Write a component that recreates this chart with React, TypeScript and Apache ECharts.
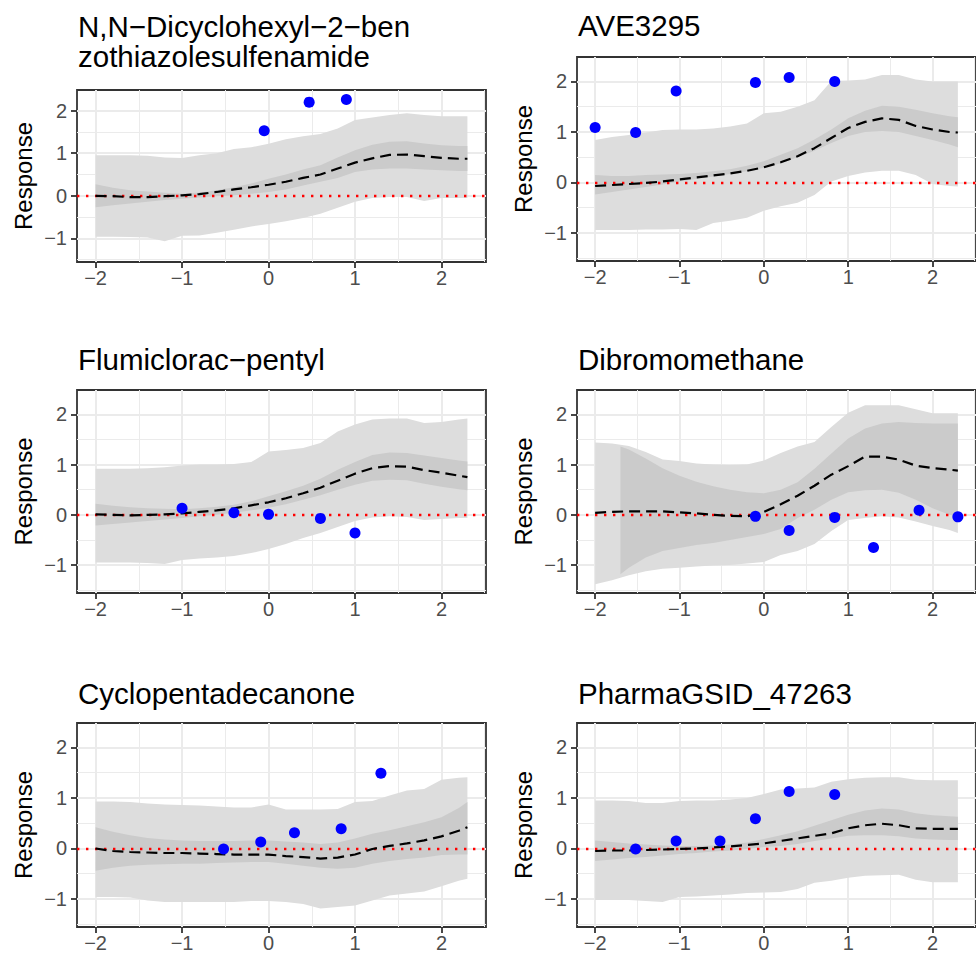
import React, { useEffect, useRef } from "react";
import * as echarts from "echarts";

// ---------- data ----------
const X = [-2, -1.8, -1.6, -1.4, -1.2, -1.0, -0.8, -0.6, -0.4, -0.2, 0, 0.2, 0.4, 0.6, 0.8, 1.0, 1.2, 1.4, 1.6, 1.8, 2.0, 2.2, 2.3];
const X_INNER_DIBROMO = [-1.7, -1.6, -1.4, -1.2, -1.0, -0.8, -0.6, -0.4, -0.2, 0, 0.2, 0.4, 0.6, 0.8, 1.0, 1.2, 1.4, 1.6, 1.8, 2.0, 2.2, 2.3];

const TITLES = [
  ["N,N\u2212Dicyclohexyl\u22122\u2212ben", "zothiazolesulfenamide"],
  ["AVE3295"],
  ["Flumiclorac\u2212pentyl"],
  ["Dibromomethane"],
  ["Cyclopentadecanone"],
  ["PharmaGSID_47263"],
];

const X_TICKS = [-2, -1, 0, 1, 2];
const Y_TICKS = [-1, 0, 1, 2];
const X_MINOR = [-1.5, -0.5, 0.5, 1.5, 2.5];
const Y_MINOR = [-1.5, -0.5, 0.5, 1.5];

// Panel 1: N,N-Dicyclohexyl-2-benzothiazolesulfenamide
const p1OuterHi = [0.95, 0.95, 0.95, 0.94, 0.90, 0.89, 0.95, 1.00, 1.10, 1.14, 1.22, 1.33, 1.40, 1.45, 1.58, 1.78, 1.84, 1.90, 1.94, 1.90, 1.87, 1.87, 1.87];
const p1OuterLo = [-0.96, -0.96, -0.97, -0.98, -1.07, -0.94, -0.93, -0.87, -0.80, -0.72, -0.66, -0.60, -0.52, -0.42, -0.28, -0.14, -0.05, -0.03, -0.03, -0.12, -0.05, -0.05, -0.05];
const p1InnerHi = [0.27, 0.19, 0.13, 0.10, 0.07, 0.05, 0.08, 0.13, 0.20, 0.29, 0.40, 0.50, 0.62, 0.72, 0.90, 1.07, 1.20, 1.27, 1.28, 1.23, 1.19, 1.17, 1.17];
const p1InnerLo = [-0.27, -0.22, -0.18, -0.14, -0.10, -0.07, -0.04, -0.01, 0.01, 0.05, 0.09, 0.15, 0.24, 0.33, 0.42, 0.56, 0.62, 0.64, 0.64, 0.62, 0.60, 0.58, 0.58];
const p1Median = [0, -0.01, -0.03, -0.03, -0.01, 0.01, 0.04, 0.09, 0.15, 0.20, 0.26, 0.33, 0.42, 0.50, 0.64, 0.78, 0.88, 0.96, 0.97, 0.93, 0.89, 0.87, 0.87];
const p1PtX = [-0.05, 0.47, 0.90];
const p1PtY = [1.53, 2.20, 2.26];

// Panel 2: AVE3295
const p2OuterHi = [0.84, 0.90, 0.94, 0.99, 1.04, 1.05, 1.05, 1.07, 1.11, 1.17, 1.37, 1.40, 1.50, 1.63, 2.01, 2.02, 2.04, 2.13, 2.13, 2.04, 2.00, 2.00, 2.00];
const p2OuterLo = [-0.94, -0.94, -0.94, -0.93, -0.93, -0.92, -0.94, -0.80, -0.76, -0.70, -0.56, -0.47, -0.40, -0.25, 0.02, 0.13, 0.20, 0.23, 0.23, 0.15, -0.03, -0.07, -0.08];
const p2InnerHi = [0.15, 0.13, 0.13, 0.15, 0.16, 0.17, 0.19, 0.22, 0.26, 0.33, 0.42, 0.55, 0.68, 0.85, 1.05, 1.27, 1.42, 1.52, 1.50, 1.44, 1.37, 1.31, 1.29];
const p2InnerLo = [-0.24, -0.19, -0.14, -0.09, -0.04, 0.02, 0.07, 0.12, 0.17, 0.22, 0.29, 0.38, 0.50, 0.63, 0.78, 0.92, 1.00, 1.02, 1.00, 0.92, 0.84, 0.75, 0.70];
const p2Median = [-0.07, -0.05, -0.03, -0.01, 0.02, 0.06, 0.10, 0.14, 0.18, 0.23, 0.30, 0.40, 0.52, 0.68, 0.88, 1.08, 1.20, 1.27, 1.24, 1.12, 1.05, 1.00, 0.99];
const p2PtX = [-2.0, -1.52, -1.04, -0.10, 0.30, 0.84];
const p2PtY = [1.09, 0.99, 1.81, 1.98, 2.08, 2.00];

// Panel 3: Flumiclorac-pentyl
const p3OuterHi = [0.92, 0.92, 0.92, 0.93, 0.95, 0.98, 1.00, 1.00, 1.01, 1.05, 1.26, 1.29, 1.33, 1.43, 1.66, 1.80, 1.90, 1.92, 1.92, 1.83, 1.85, 1.90, 1.92];
const p3OuterLo = [-0.95, -0.95, -0.95, -0.96, -0.98, -0.90, -0.87, -0.85, -0.82, -0.76, -0.68, -0.58, -0.46, -0.36, -0.24, -0.12, -0.05, -0.03, -0.04, -0.10, -0.08, -0.06, -0.06];
const p3InnerHi = [0.22, 0.18, 0.15, 0.13, 0.12, 0.11, 0.13, 0.16, 0.20, 0.27, 0.37, 0.47, 0.58, 0.72, 0.90, 1.05, 1.19, 1.24, 1.23, 1.18, 1.13, 1.08, 1.06];
const p3InnerLo = [-0.21, -0.18, -0.15, -0.12, -0.09, -0.06, -0.03, 0.00, 0.04, 0.09, 0.14, 0.21, 0.30, 0.39, 0.50, 0.60, 0.68, 0.70, 0.69, 0.62, 0.56, 0.51, 0.49];
const p3Median = [0.01, 0.00, -0.01, 0.00, 0.01, 0.03, 0.06, 0.09, 0.13, 0.19, 0.25, 0.33, 0.43, 0.54, 0.68, 0.82, 0.93, 0.97, 0.96, 0.89, 0.84, 0.78, 0.75];
const p3PtX = [-1.0, -0.40, 0.0, 0.60, 1.0];
const p3PtY = [0.13, 0.04, 0.01, -0.07, -0.36];

// Panel 4: Dibromomethane
const p4OuterHi = [1.44, 1.42, 1.37, 1.25, 1.10, 1.07, 1.02, 1.00, 0.99, 1.00, 1.08, 1.23, 1.36, 1.45, 1.75, 2.03, 2.18, 2.18, 2.18, 2.10, 2.02, 2.02, 2.02];
const p4OuterLo = [-1.38, -1.30, -1.20, -1.12, -1.07, -1.05, -1.03, -1.01, -1.00, -0.97, -0.94, -0.80, -0.72, -0.58, -0.32, -0.10, -0.06, -0.03, -0.05, -0.13, -0.22, -0.30, -0.36];
const p4InnerHi = [1.36, 1.30, 1.12, 0.93, 0.78, 0.66, 0.57, 0.50, 0.45, 0.43, 0.50, 0.65, 0.92, 1.22, 1.52, 1.72, 1.82, 1.85, 1.83, 1.82, 1.82, 1.82];
const p4InnerLo = [-1.18, -1.05, -0.85, -0.72, -0.66, -0.60, -0.56, -0.50, -0.44, -0.38, -0.28, -0.06, 0.10, 0.30, 0.45, 0.49, 0.50, 0.44, 0.30, 0.13, 0.00, -0.03];
const p4Median = [0.04, 0.06, 0.07, 0.07, 0.07, 0.05, 0.03, 0.00, -0.02, -0.03, 0.06, 0.21, 0.38, 0.58, 0.80, 0.97, 1.16, 1.16, 1.10, 0.98, 0.93, 0.90, 0.88];
const p4PtX = [-0.10, 0.30, 0.84, 1.30, 1.84, 2.30];
const p4PtY = [-0.03, -0.31, -0.05, -0.65, 0.09, -0.04];

// Panel 5: Cyclopentadecanone
const p5OuterHi = [0.93, 0.93, 0.92, 0.89, 0.87, 0.86, 0.85, 0.83, 0.81, 0.81, 0.87, 0.77, 0.77, 0.77, 0.78, 0.92, 0.94, 1.05, 1.15, 1.18, 1.36, 1.40, 1.41];
const p5OuterLo = [-0.96, -0.96, -0.97, -1.03, -1.06, -1.06, -1.06, -1.06, -1.06, -1.04, -1.04, -1.06, -1.10, -1.19, -1.16, -1.13, -1.03, -0.93, -0.89, -0.85, -0.75, -0.64, -0.60];
const p5InnerHi = [0.42, 0.33, 0.26, 0.21, 0.18, 0.16, 0.15, 0.15, 0.15, 0.16, 0.16, 0.14, 0.12, 0.09, 0.12, 0.20, 0.29, 0.36, 0.44, 0.52, 0.62, 0.80, 0.92];
const p5InnerLo = [-0.44, -0.38, -0.34, -0.32, -0.31, -0.30, -0.30, -0.29, -0.28, -0.27, -0.27, -0.30, -0.34, -0.38, -0.40, -0.38, -0.30, -0.25, -0.21, -0.18, -0.13, -0.12, -0.12];
const p5Median = [0.00, -0.05, -0.07, -0.08, -0.09, -0.09, -0.10, -0.11, -0.12, -0.12, -0.12, -0.15, -0.17, -0.20, -0.18, -0.12, -0.01, 0.05, 0.10, 0.16, 0.24, 0.35, 0.42];
const p5PtX = [-0.52, -0.09, 0.30, 0.84, 1.30];
const p5PtY = [-0.01, 0.13, 0.31, 0.39, 1.49];

// Panel 6: PharmaGSID_47263
const p6OuterHi = [0.95, 0.95, 0.94, 0.90, 0.90, 0.94, 0.95, 0.95, 0.97, 1.00, 1.08, 1.17, 1.19, 1.21, 1.32, 1.37, 1.40, 1.41, 1.41, 1.36, 1.35, 1.35, 1.35];
const p6OuterLo = [-1.02, -1.02, -1.02, -1.04, -1.06, -0.96, -0.95, -0.93, -0.91, -0.88, -0.87, -0.86, -0.80, -0.68, -0.64, -0.58, -0.54, -0.53, -0.52, -0.62, -0.67, -0.67, -0.67];
const p6InnerHi = [0.16, 0.13, 0.10, 0.08, 0.06, 0.05, 0.05, 0.06, 0.08, 0.12, 0.19, 0.26, 0.34, 0.45, 0.56, 0.67, 0.75, 0.79, 0.77, 0.70, 0.66, 0.64, 0.63];
const p6InnerLo = [-0.25, -0.22, -0.19, -0.17, -0.14, -0.11, -0.09, -0.06, -0.04, -0.01, 0.03, 0.05, 0.09, 0.15, 0.20, 0.25, 0.26, 0.26, 0.24, 0.20, 0.18, 0.17, 0.17];
const p6Median = [-0.05, -0.04, -0.04, -0.03, -0.02, -0.01, 0.00, 0.02, 0.04, 0.07, 0.10, 0.15, 0.20, 0.25, 0.30, 0.40, 0.46, 0.49, 0.46, 0.40, 0.39, 0.39, 0.39];
const p6PtX = [-1.52, -1.04, -0.52, -0.10, 0.30, 0.84];
const p6PtY = [-0.01, 0.15, 0.15, 0.59, 1.13, 1.07];

// ---------- layout ----------
const FONT = "'Liberation Sans', Arial, Helvetica, sans-serif";
const TITLE_SIZE = 29.5;
const TITLE_LINE = 30;
const GRIDS = [
  { left: 77, top: 90, height: 172, titleY: 26 },
  { left: 577, top: 57, height: 204, titleY: 25 },
  { left: 77, top: 390, height: 203, titleY: 359 },
  { left: 577, top: 390, height: 203, titleY: 359 },
  { left: 77, top: 723, height: 204, titleY: 693 },
  { left: 577, top: 723, height: 204, titleY: 693 },
];
const PANEL_W = 409;
const X_MIN = -2.215, X_MAX = 2.515;
const Y_MIN = -1.555, Y_MAX = 2.485;

const PANELS = [
  { outerHi: p1OuterHi, outerLo: p1OuterLo, innerX: X, innerHi: p1InnerHi, innerLo: p1InnerLo, median: p1Median, px: p1PtX, py: p1PtY },
  { outerHi: p2OuterHi, outerLo: p2OuterLo, innerX: X, innerHi: p2InnerHi, innerLo: p2InnerLo, median: p2Median, px: p2PtX, py: p2PtY },
  { outerHi: p3OuterHi, outerLo: p3OuterLo, innerX: X, innerHi: p3InnerHi, innerLo: p3InnerLo, median: p3Median, px: p3PtX, py: p3PtY },
  { outerHi: p4OuterHi, outerLo: p4OuterLo, innerX: X_INNER_DIBROMO, innerHi: p4InnerHi, innerLo: p4InnerLo, median: p4Median, px: p4PtX, py: p4PtY },
  { outerHi: p5OuterHi, outerLo: p5OuterLo, innerX: X, innerHi: p5InnerHi, innerLo: p5InnerLo, median: p5Median, px: p5PtX, py: p5PtY },
  { outerHi: p6OuterHi, outerLo: p6OuterLo, innerX: X, innerHi: p6InnerHi, innerLo: p6InnerLo, median: p6Median, px: p6PtX, py: p6PtY },
];

const fmt = (v: number) => (Number.isInteger(v) ? String(v).replace("-", "\u2212") : "");

function bandSeries(i: number, xs: number[], lo: number[], hi: number[], color: string) {
  return {
    type: "custom",
    xAxisIndex: i,
    yAxisIndex: i,
    silent: true,
    z: 2,
    clip: true,
    encode: { x: 0, y: [1, 2] },
    data: xs.map((x, k) => [x, lo[k], hi[k]]),
    renderItem: (params: any, api: any) => {
      if (params.dataIndex !== 0) return null;
      const pts: number[][] = [];
      for (let k = 0; k < xs.length; k++) pts.push(api.coord([xs[k], hi[k]]));
      for (let k = xs.length - 1; k >= 0; k--) pts.push(api.coord([xs[k], lo[k]]));
      return { type: "polygon", shape: { points: pts }, style: { fill: color }, silent: true };
    },
  };
}

function buildOption() {
  const grid: any[] = [];
  const xAxis: any[] = [];
  const yAxis: any[] = [];
  const series: any[] = [];
  const graphic: any[] = [];

  GRIDS.forEach((g, i) => {
    grid.push({
      left: g.left, top: g.top, width: PANEL_W, height: g.height,
      show: true, borderColor: "#333333", borderWidth: 1.8, backgroundColor: "#FFFFFF",
    });
    xAxis.push({
      type: "value", gridIndex: i, min: X_MIN, max: X_MAX, splitNumber: 5,
      axisLine: { show: false, onZero: false },
      axisTick: { show: true, length: 6, lineStyle: { color: "#333333", width: 1.8 }, customValues: X_TICKS },
      axisLabel: { customValues: X_TICKS, color: "#4D4D4D", fontSize: 20, fontFamily: FONT, margin: 6, formatter: fmt },
      splitLine: { show: true, lineStyle: { color: "#EBEBEB", width: 2 } },
    });
    yAxis.push({
      type: "value", gridIndex: i, min: Y_MIN, max: Y_MAX, splitNumber: 5,
      name: "Response", nameLocation: "middle", nameGap: 42,
      nameTextStyle: { fontSize: 24, color: "#000000", fontFamily: FONT },
      axisLine: { show: false, onZero: false },
      axisTick: { show: true, length: 6, lineStyle: { color: "#333333", width: 1.8 }, customValues: Y_TICKS },
      axisLabel: { customValues: Y_TICKS, color: "#4D4D4D", fontSize: 20, fontFamily: FONT, margin: 10, formatter: fmt },
      splitLine: { show: true, lineStyle: { color: "#EBEBEB", width: 2 } },
    });

    const p = PANELS[i];
    const ax = { xAxisIndex: i, yAxisIndex: i };
    // minor grid lines
    series.push({
      ...ax, type: "line", data: [[0, 0]], symbol: "none", silent: true, z: 1,
      lineStyle: { opacity: 0, width: 0 },
      markLine: {
        silent: true, symbol: "none", z: 1, animation: false,
        label: { show: false },
        lineStyle: { color: "#EBEBEB", width: 1, type: "solid" },
        emphasis: { disabled: true },
        data: [...X_MINOR.map((v) => ({ xAxis: v })), ...Y_MINOR.map((v) => ({ yAxis: v }))],
      },
    });
    series.push(bandSeries(i, X, p.outerLo, p.outerHi, "#DDDDDD"));
    series.push(bandSeries(i, p.innerX, p.innerLo, p.innerHi, "#CBCBCB"));
    // median dashed line + zero reference line
    series.push({
      ...ax, type: "line", symbol: "none", silent: true, z: 3,
      lineStyle: { color: "#000000", width: 2.2, type: [11, 6] },
      data: X.map((x, k) => [x, p.median[k]]),
      markLine: {
        silent: true, symbol: "none", z: 3, animation: false,
        label: { show: false },
        emphasis: { disabled: true },
        lineStyle: { color: "#FF0000", width: 2.4, type: [2.4, 6.6] },
        data: [{ yAxis: 0 }],
      },
    });
    // observed points
    series.push({
      ...ax, type: "scatter", symbolSize: 11, silent: true, z: 4,
      itemStyle: { color: "#0000FF", opacity: 1 },
      data: p.px.map((x, k) => [x, p.py[k]]),
    });

    TITLES[i].forEach((line, li) => {
      graphic.push({
        type: "text", x: g.left + 1, y: g.titleY + li * TITLE_LINE, silent: true,
        style: {
          text: line, fill: "#000000", fontSize: TITLE_SIZE, fontFamily: FONT,
          align: "left", verticalAlign: "middle",
        },
      });
    });
  });

  return {
    animation: false,
    backgroundColor: "#FFFFFF",
    textStyle: { fontFamily: FONT },
    grid, xAxis, yAxis, series, graphic,
  };
}

export default function App() {
  const ref = useRef<HTMLDivElement>(null);
  useEffect(() => {
    if (!ref.current) return;
    const chart = echarts.init(ref.current, null, { renderer: "svg" });
    chart.setOption(buildOption() as any);
    return () => chart.dispose();
  }, []);
  return (
    <div
      ref={ref}
      style={{ position: "absolute", left: 0, top: 0, width: 976, height: 956, background: "#fff" }}
    />
  );
}
